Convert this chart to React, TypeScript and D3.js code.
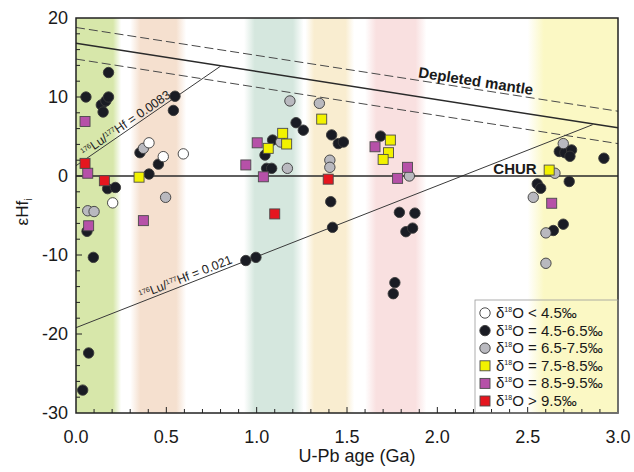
import React from "react";
import * as d3 from "d3";

// ---------- data ----------
const whiteAge = [0.203, 0.404, 0.483, 0.594];
const whiteEps = [-3.4, 4.2, 2.45, 2.8];

const blackAge = [0.18, 0.055, 0.14, 0.165, 0.18, 0.15, 0.175, 0.218, 0.061, 0.096, 0.07, 0.037,
  0.548, 0.539, 0.354, 0.456, 0.404,
  1.218, 1.258, 1.088, 1.046, 1.055, 1.083, 0.94, 0.996,
  1.415, 1.452, 1.48, 1.41, 1.42,
  1.686, 1.79, 1.876, 1.826, 1.863, 1.765, 1.756,
  2.675, 2.706, 2.743, 2.734, 2.922, 2.553, 2.572, 2.73, 2.697, 2.642];
const blackEps = [13.1, 10.0, 9.0, 9.5, 10.0, 8.1, -1.6, -1.45, -7.0, -10.3, -22.4, -27.1,
  10.1, 8.3, 2.95, 1.5, 0.25,
  6.75, 5.8, 4.55, 2.65, 0.97, 0.97, -10.7, -10.3,
  5.2, 4.1, 4.3, -3.25, -6.5,
  5.05, -4.6, -4.7, -7.05, -6.6, -13.5, -14.9,
  3.1, 2.95, 3.3, 2.5, 2.25, -1.0, -1.55, -0.7, -6.1, -6.9];

const grayAge = [0.065, 0.1, 0.373, 0.496, 1.184, 1.347, 1.133, 1.17, 1.405, 1.405, 1.845, 2.697, 2.651, 2.531, 2.601, 2.601];
const grayEps = [-4.4, -4.5, 3.5, -2.7, 9.5, 9.2, 4.3, 0.97, 2.0, 1.1, 0.0, 4.1, 0.35, -2.7, -7.2, -11.05];

const yellowAge = [0.349, 1.36, 1.144, 1.166, 1.064, 1.74, 1.73, 1.7, 2.619];
const yellowEps = [-0.15, 7.2, 5.4, 4.05, 3.5, 4.55, 2.95, 2.1, 0.75];

const purpleAge = [0.05, 0.065, 0.07, 0.373, 1.003, 0.94, 1.037, 1.655, 1.835, 1.78, 2.633];
const purpleEps = [6.9, 0.35, -6.3, -5.65, 4.2, 1.4, -0.1, 3.7, 1.1, -0.3, -3.45];

const redAge = [0.05, 0.157, 1.1, 1.396];
const redEps = [1.6, -0.6, -4.8, -0.4];

// reference lines [age0, eps0, age1, eps1]
const dmLine = [0, 16.8, 3, 6.1];
const dmUpper = [0, 18.8, 3, 8.2];
const dmLower = [0, 14.8, 3, 4.1];
const luHf0083 = [0, 1.3, 0.8, 13.9];
const luHf021 = [0, -19.2, 2.86, 6.5];

// background age bands
const bandStart = [0, 0.3, 0.93, 1.27, 1.6, 2.5];
const bandEnd = [0.25, 0.61, 1.26, 1.54, 1.94, 3.0];
const bandColor = ["#d7e7aa", "#f5e0cf", "#d5e7de", "#f9edd0", "#f9e0e0", "#fbf8c4"];

const xTicks = [0, 0.5, 1, 1.5, 2, 2.5, 3];
const yTicks = [-30, -20, -10, 0, 10, 20];

const legendLabels = ["< 4.5‰", "= 4.5-6.5‰", "= 6.5-7.5‰", "= 7.5-8.5‰", "= 8.5-9.5‰", "> 9.5‰"];

// ---------- layout ----------
const W = 634, H = 472;
const L = 76, R = 618, T = 18, B = 413;
const FONT = "'Liberation Sans', Arial, sans-serif";

const sty = {
  white: { fill: "#ffffff", shape: "c" },
  black: { fill: "#1a1c24", shape: "c" },
  gray: { fill: "#b9b9bf", shape: "c" },
  yellow: { fill: "#f2f200", shape: "s" },
  purple: { fill: "#b651a8", shape: "s" },
  red: { fill: "#e5161f", shape: "s" },
};

function Marker({ cx, cy, kind }: { cx: number; cy: number; kind: keyof typeof sty }) {
  const s = sty[kind];
  if (s.shape === "c")
    return <circle cx={cx} cy={cy} r={5.2} fill={s.fill} stroke="#3a3a3a" strokeWidth={0.9} />;
  return <rect x={cx - 5} y={cy - 5} width={10} height={10} fill={s.fill} stroke="#4a4a4a" strokeWidth={0.9} />;
}

export default function App() {
  const x = d3.scaleLinear().domain([0, 3]).range([L, R]);
  const y = d3.scaleLinear().domain([-30, 20]).range([B, T]);

  const lineD = (a: number[]) =>
    d3.line<[number, number]>().x((d) => x(d[0])).y((d) => y(d[1]))([[a[0], a[1]], [a[2], a[3]]]) || "";
  const ang = (a: number[]) =>
    (Math.atan2(y(a[3]) - y(a[1]), x(a[2]) - x(a[0])) * 180) / Math.PI;
  const along = (a: number[], px: number) => y(a[1] + ((a[3] - a[1]) * (x.invert(px) - a[0])) / (a[2] - a[0]));

  const groups: [keyof typeof sty, number[], number[]][] = [
    ["black", blackAge, blackEps],
    ["gray", grayAge, grayEps],
    ["white", whiteAge, whiteEps],
    ["yellow", yellowAge, yellowEps],
    ["purple", purpleAge, purpleEps],
    ["red", redAge, redEps],
  ];
  const legendKinds: (keyof typeof sty)[] = ["white", "black", "gray", "yellow", "purple", "red"];

  const xMinor = d3.range(1, 30).map((i) => i / 10);
  const yMinor = d3.range(-28, 20, 2);

  const dmAng = ang(dmUpper);
  const dmLx = 475;
  const dmLy = along(dmUpper, dmLx) - 3;

  const a1 = ang(luHf0083);
  const l1x = 128;
  const l1y = along(luHf0083, l1x) - 3;

  const a2 = ang(luHf021);
  const l2x = 187;
  const l2y = along(luHf021, l2x) - 3;

  return (
    <svg width={W} height={H} style={{ position: "absolute", left: 0, top: 0, background: "#fff" }} fontFamily={FONT}>
      <defs>
        {bandColor.map((c, i) => {
          const soft0 = bandStart[i] > 0;
          const soft1 = bandEnd[i] < 3;
          return (
            <linearGradient key={i} id={`band${i}`} x1="0" x2="1" y1="0" y2="0">
              <stop offset="0" stopColor={c} stopOpacity={soft0 ? 0 : 1} />
              <stop offset="0.18" stopColor={c} stopOpacity={1} />
              <stop offset="0.82" stopColor={c} stopOpacity={1} />
              <stop offset="1" stopColor={c} stopOpacity={soft1 ? 0 : 1} />
            </linearGradient>
          );
        })}
      </defs>

      {bandStart.map((s, i) => (
        <rect key={i} x={x(s)} y={T} width={x(bandEnd[i]) - x(s)} height={B - T} fill={`url(#band${i})`} />
      ))}

      <path d={lineD(dmUpper)} stroke="#4a4a4a" strokeWidth={1} strokeDasharray="9,4" fill="none" />
      <path d={lineD(dmLower)} stroke="#4a4a4a" strokeWidth={1} strokeDasharray="9,4" fill="none" />
      <path d={lineD(dmLine)} stroke="#2a2a2a" strokeWidth={1.5} fill="none" />
      <path d={lineD(luHf0083)} stroke="#3a3a3a" strokeWidth={1} fill="none" />
      <path d={lineD(luHf021)} stroke="#3a3a3a" strokeWidth={1} fill="none" />
      <line x1={L} x2={R} y1={y(0)} y2={y(0)} stroke="#2a2a2a" strokeWidth={1.5} />

      <text x={dmLx} y={dmLy} transform={`rotate(${dmAng},${dmLx},${dmLy})`} textAnchor="middle"
        fontSize={15} fontWeight="bold" fill="#1a1a1a">Depleted mantle</text>
      <text x={515} y={174} textAnchor="middle" fontSize={15} fontWeight="bold" fill="#1a1a1a">CHUR</text>
      <text x={l1x} y={l1y} transform={`rotate(${a1},${l1x},${l1y})`} textAnchor="middle" fontSize={12.5} fill="#222">
        <tspan fontSize={7} dy={-4}>176</tspan>
        <tspan dy={4}>Lu/</tspan>
        <tspan fontSize={7} dy={-4}>177</tspan>
        <tspan dy={4}>Hf = 0.0083</tspan>
      </text>
      <text x={l2x} y={l2y} transform={`rotate(${a2},${l2x},${l2y})`} textAnchor="middle" fontSize={12.5} fill="#222">
        <tspan fontSize={7} dy={-4}>176</tspan>
        <tspan dy={4}>Lu/</tspan>
        <tspan fontSize={7} dy={-4}>177</tspan>
        <tspan dy={4}>Hf = 0.021</tspan>
      </text>

      {groups.map(([k, ages, eps]) =>
        ages.map((a, i) => <Marker key={`${k}${i}`} cx={x(a)} cy={y(eps[i])} kind={k} />)
      )}

      <rect x={L} y={T} width={R - L} height={B - T} fill="none" stroke="#222" strokeWidth={1.5} />
      {xMinor.map((v) => (
        <line key={`xm${v}`} x1={x(v)} x2={x(v)} y1={B} y2={B - (xTicks.includes(v) ? 6 : 4)} stroke="#222" strokeWidth={1} />
      ))}
      {yMinor.map((v) => (
        <line key={`ym${v}`} x1={L} x2={L + (v % 10 === 0 ? 6 : 4)} y1={y(v)} y2={y(v)} stroke="#222" strokeWidth={1} />
      ))}
      {xTicks.map((v) => (
        <text key={`xt${v}`} x={x(v)} y={443} textAnchor="middle" fontSize={18} fill="#1a1a1a">{v.toFixed(1)}</text>
      ))}
      {yTicks.map((v) => (
        <text key={`yt${v}`} x={68} y={y(v) + 6} textAnchor="end" fontSize={18} fill="#1a1a1a">{v}</text>
      ))}
      <text x={357} y={462} textAnchor="middle" fontSize={18} fill="#1a1a1a">U-Pb age (Ga)</text>
      <text transform="translate(28,212) rotate(-90)" textAnchor="middle" fontSize={17} fill="#1a1a1a">
        εHf<tspan fontSize={10} dy={4}>i</tspan>
      </text>

      <rect x={475} y={300} width={R - 475} height={B - 300} fill="none" stroke="#9a9a9a" strokeWidth={0.8} />
      {legendKinds.map((k, i) => {
        const ly = 313 + i * 17.6;
        return (
          <g key={`lg${k}`}>
            <Marker cx={485} cy={ly} kind={k} />
            <text x={496} y={ly + 5} fontSize={15} fill="#1a1a1a">
              δ<tspan fontSize={7} dy={-6}>18</tspan>
              <tspan dy={6}>O {legendLabels[i]}</tspan>
            </text>
          </g>
        );
      })}
    </svg>
  );
}
